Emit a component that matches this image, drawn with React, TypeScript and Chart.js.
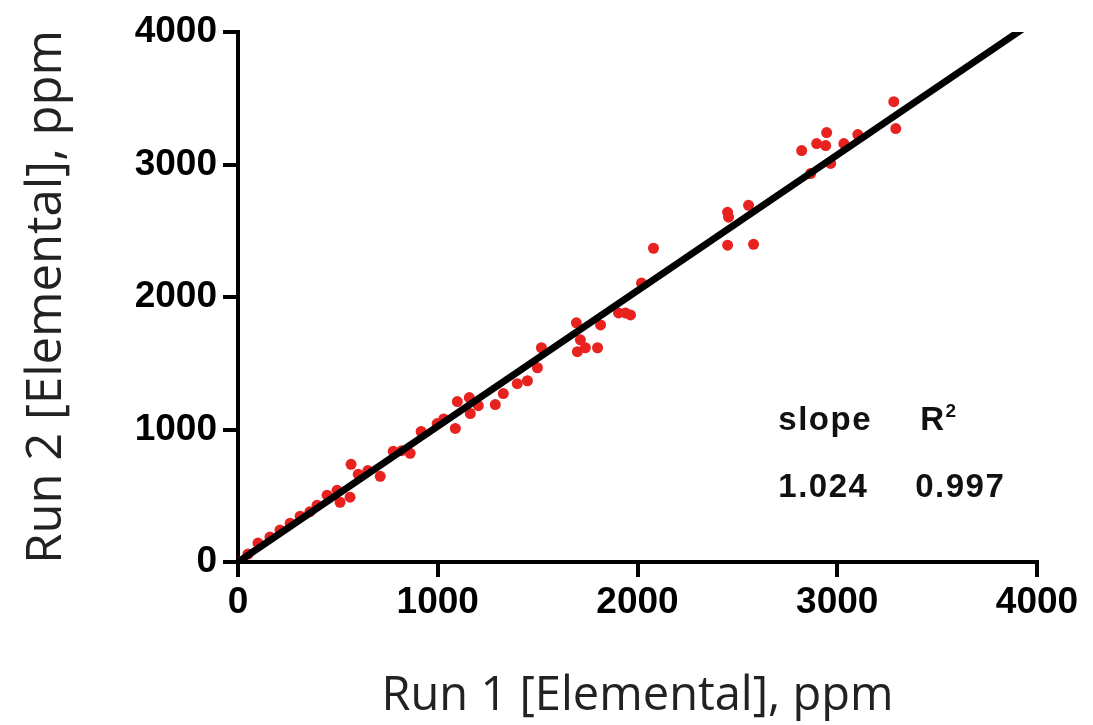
import React, { useEffect, useRef } from "react";
import { Chart, registerables } from "chart.js";

Chart.register(...registerables);

const run1Values = [
  0, 50, 100, 160, 210, 261, 311, 360, 396, 446, 496, 511, 561, 566, 602, 650, 712,
  777, 820, 862, 917, 997, 1030, 1088, 1098, 1158, 1163, 1203, 1288, 1328, 1398,
  1449, 1499, 1519, 1694, 1699, 1714, 1739, 1800, 1815, 1905, 1940, 1965, 2020,
  2080, 2451, 2456, 2556, 2451, 2581, 2822, 2867, 2897, 2942, 2947, 2967, 3033,
  3103, 3283, 3293,
];
const run2Values = [
  0, 60, 143, 188, 241, 293, 346, 380, 429, 504, 541, 451, 489, 737, 662, 690, 647,
  835, 840, 820, 985, 1045, 1080, 1008, 1211, 1241, 1120, 1180, 1188, 1271, 1346,
  1368, 1466, 1617, 1805, 1587, 1677, 1617, 1617, 1789, 1880, 1880, 1865, 2105,
  2368, 2639, 2602, 2692, 2391, 2398, 3105, 2932, 3158, 3143, 3241, 3008, 3158,
  3226, 3474, 3271,
];
const fitX = [0, 3925];
const slope = 1.024;
const rSquared = 0.997;
const tickValues = [0, 1000, 2000, 3000, 4000];
const xTitle = "Run 1 [Elemental], ppm";
const yTitle = "Run 2 [Elemental], ppm";

const statsPlugin = {
  id: "stats",
  afterDraw(chart: any) {
    const ctx = chart.ctx;
    const x = chart.scales.x;
    const y = chart.scales.y;
    ctx.save();
    ctx.fillStyle = "#111";
    ctx.textBaseline = "alphabetic";
    ctx.textAlign = "left";
    const big = "bold 33px 'Liberation Sans', Arial, sans-serif";
    ctx.font = big;
    (ctx as any).letterSpacing = "1.5px";
    const c1 = x.getPixelForValue(2705);
    const c2 = x.getPixelForValue(3415);
    const c3 = x.getPixelForValue(3390);
    const r1 = y.getPixelForValue(1000);
    const r2 = y.getPixelForValue(490);
    ctx.fillText("slope", c1, r1);
    ctx.fillText("R", c2, r1);
    const rw = ctx.measureText("R").width;
    ctx.font = "bold 19px 'Liberation Sans', Arial, sans-serif";
    ctx.fillText("2", c2 + rw, r1 - 13);
    ctx.font = big;
    ctx.fillText(slope.toFixed(3), c1, r2);
    ctx.fillText(rSquared.toFixed(3), c3, r2);
    ctx.restore();
  },
};

export default function App() {
  const ref = useRef<HTMLCanvasElement>(null);
  useEffect(() => {
    if (!ref.current) return;
    const points = run1Values.map((v, i) => ({ x: v, y: run2Values[i] }));
    const fit = fitX.map((v) => ({ x: v, y: v * slope }));
    const tickFont = { family: "'Liberation Sans', Arial, sans-serif", size: 37, weight: "bold" as const };
    const fmt = (v: any) => String(v);
    const chart = new Chart(ref.current, {
      type: "scatter",
      data: {
        datasets: [
          {
            type: "line",
            data: fit,
            borderColor: "#000",
            borderWidth: 7,
            pointRadius: 0,
            order: 0,
          } as any,
          {
            data: points,
            backgroundColor: "#e8221e",
            borderColor: "#e8221e",
            pointRadius: 5.5,
            borderWidth: 0,
            order: 1,
          },
        ],
      },
      options: {
        animation: false,
        responsive: false,
        layout: { padding: { top: 32, right: 56, left: 0, bottom: 0 } },
        plugins: { legend: { display: false }, tooltip: { enabled: false } },
        scales: {
          x: {
            type: "linear",
            min: 0,
            max: 4000,
            afterBuildTicks: (s: any) => {
              s.ticks = tickValues.map((v) => ({ value: v }));
            },
            afterFit: (s: any) => {
              s.height = 163;
            },
            border: { display: true, color: "#000", width: 4 },
            grid: { drawOnChartArea: false, drawTicks: true, tickLength: 15, color: "#000", lineWidth: 4 },
            ticks: { color: "#000", font: tickFont, padding: 4, maxRotation: 0, callback: fmt },
            title: {
              display: true,
              text: xTitle,
              color: "#222",
              font: { family: "'Open Sans', sans-serif", size: 47 },
              padding: { top: 28, bottom: 0 },
            },
          },
          y: {
            type: "linear",
            min: 0,
            max: 4000,
            afterBuildTicks: (s: any) => {
              s.ticks = tickValues.map((v) => ({ value: v }));
            },
            afterFit: (s: any) => {
              s.width = 238;
            },
            border: { display: true, color: "#000", width: 4 },
            grid: { drawOnChartArea: false, drawTicks: true, tickLength: 15, color: "#000", lineWidth: 4 },
            ticks: { color: "#000", font: tickFont, padding: 6, callback: fmt },
            title: {
              display: true,
              text: yTitle,
              color: "#222",
              font: { family: "'Open Sans', sans-serif", size: 49 },
              padding: { top: 18, bottom: 0 },
            },
          },
        },
      },
      plugins: [statsPlugin],
    });
    return () => chart.destroy();
  }, []);
  return (
    <div style={{ position: "fixed", left: 0, top: 0, width: 1093, height: 725, background: "#fff" }}>
      <canvas ref={ref} width={1093} height={725} style={{ width: 1093, height: 725 }} />
    </div>
  );
}
